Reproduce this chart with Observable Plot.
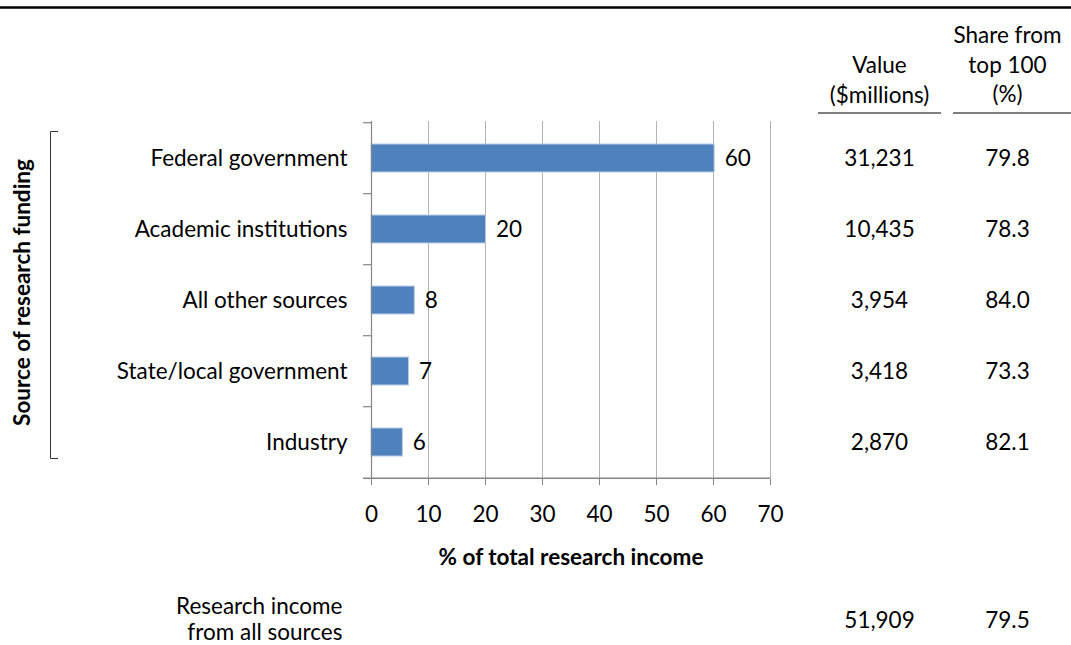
<!DOCTYPE html>
<html><head><meta charset="utf-8">
<script src="https://cdn.jsdelivr.net/npm/d3@7"></script>
<script src="https://cdn.jsdelivr.net/npm/@observablehq/plot@0.6"></script>
<style>body{margin:0;background:#fff;} svg{display:block}</style>
</head><body><div id="chart"></div>
<script>
const categories = ["Federal government","Academic institutions","All other sources","State/local government","Industry"];
const sharePct = [60.2, 20.1, 7.6, 6.6, 5.5];
const valueMillions = ["31,231","10,435","3,954","3,418","2,870"];
const shareTop100 = ["79.8","78.3","84.0","73.3","82.1"];
const xTicks = [0,10,20,30,40,50,60,70];
const columnHeaders = ["Value\n($millions)", "Share from\ntop 100\n(%)"];
const totalLabel = "Research income\nfrom all sources";
const totalValue = "51,909";
const totalShare = "79.5";
const xLabel = "% of total research income";
const yLabel = "Source of research funding";

const data = categories.map((c, i) => ({cat: c, pct: sharePct[i], val: valueMillions[i], share: shareTop100[i]}));

const W = 1071, H = 645, mL = 371, mR = 301, mT = 121, mB = 166;
const step = (H - mT - mB) / categories.length;
const FS = 22.5;
const font = "Lato, 'Open Sans', sans-serif";
const col1 = 109, col2 = 237; // offsets of table columns from the plot's right edge

const svg = Plot.plot({
  width: W, height: H,
  marginLeft: mL, marginRight: mR, marginTop: mT, marginBottom: mB,
  style: {fontFamily: font, fontSize: FS + "px", color: "black", background: "white"},
  x: {domain: [0, 70]},
  y: {domain: categories, paddingInner: 0.61, paddingOuter: 0.305},
  marks: [
    Plot.ruleX(xTicks.slice(1), {stroke: "#b3b3b3", strokeWidth: 1}),
    Plot.barX(data, {y: "cat", x: "pct", fill: "#4F81BD", stroke: "#b9cde5", strokeWidth: 1}),
    Plot.ruleX([0], {stroke: "#868686", strokeWidth: 1.2}),
    Plot.ruleY(data, {y: "cat", x1: -1.4, x2: 0, dy: -step / 2, stroke: "#868686", strokeWidth: 1.2}),
    Plot.ruleY(data.slice(-1), {y: "cat", x1: -1.4, x2: 70, dy: step / 2, stroke: "#868686", strokeWidth: 1.5}),
    Plot.axisX({ticks: xTicks, tickSize: 6, tickPadding: 21, fontSize: FS, stroke: "#868686", label: null, tickFormat: d => d}),
    Plot.axisY({tickSize: 0, tickPadding: 24, fontSize: FS, label: null}),
    Plot.text(data, {y: "cat", x: "pct", text: d => d3.format(".0f")(d.pct), dx: 10, textAnchor: "start", fontSize: FS}),
    // table columns
    Plot.text(data, {y: "cat", text: "val", frameAnchor: "right", dx: col1, textAnchor: "middle", lineAnchor: "middle", fontSize: FS}),
    Plot.text(data, {y: "cat", text: "share", frameAnchor: "right", dx: col2, textAnchor: "middle", lineAnchor: "middle", fontSize: FS}),
    Plot.text([columnHeaders[0]], {text: d => d, frameAnchor: "top-right", dx: col1, dy: -43, textAnchor: "middle", lineAnchor: "middle", lineHeight: 1.31, fontSize: FS}),
    Plot.text([columnHeaders[1]], {text: d => d, frameAnchor: "top-right", dx: col2, dy: -58, textAnchor: "middle", lineAnchor: "middle", lineHeight: 1.31, fontSize: FS}),
    // totals row
    Plot.text([totalLabel], {text: d => d, frameAnchor: "bottom-left", dx: -29, dy: 139, textAnchor: "end", lineAnchor: "middle", lineHeight: 1.16, fontSize: FS}),
    Plot.text([totalValue], {text: d => d, frameAnchor: "bottom-right", dx: col1, dy: 141, textAnchor: "middle", lineAnchor: "middle", fontSize: FS}),
    Plot.text([totalShare], {text: d => d, frameAnchor: "bottom-right", dx: col2, dy: 141, textAnchor: "middle", lineAnchor: "middle", fontSize: FS}),
    // axis titles
    Plot.text([xLabel], {text: d => d, frameAnchor: "bottom", dy: 78, textAnchor: "middle", lineAnchor: "middle", fontWeight: "bold", fontSize: FS}),
    Plot.text([yLabel], {text: d => d, frameAnchor: "left", dx: -349, dy: -8, rotate: -90, textAnchor: "middle", lineAnchor: "middle", fontWeight: "bold", fontSize: FS})
  ]
});

// decorations: top rule, column underlines, bracket
const s = d3.select(svg);
const g = s.append("g").attr("stroke", "black").attr("fill", "none");
g.append("line").attr("x1", 0).attr("x2", W).attr("y1", 7.5).attr("y2", 7.5).attr("stroke-width", 2.5);
g.append("line").attr("x1", 818).attr("x2", 941).attr("y1", 113).attr("y2", 113).attr("stroke-width", 1.2);
g.append("line").attr("x1", 953).attr("x2", W).attr("y1", 113).attr("y2", 113).attr("stroke-width", 1.2);
g.append("path").attr("d", "M58,131.5H50.5V458.5H58").attr("stroke", "#333").attr("stroke-width", 1);

document.getElementById("chart").appendChild(svg);
</script>
</body></html>
